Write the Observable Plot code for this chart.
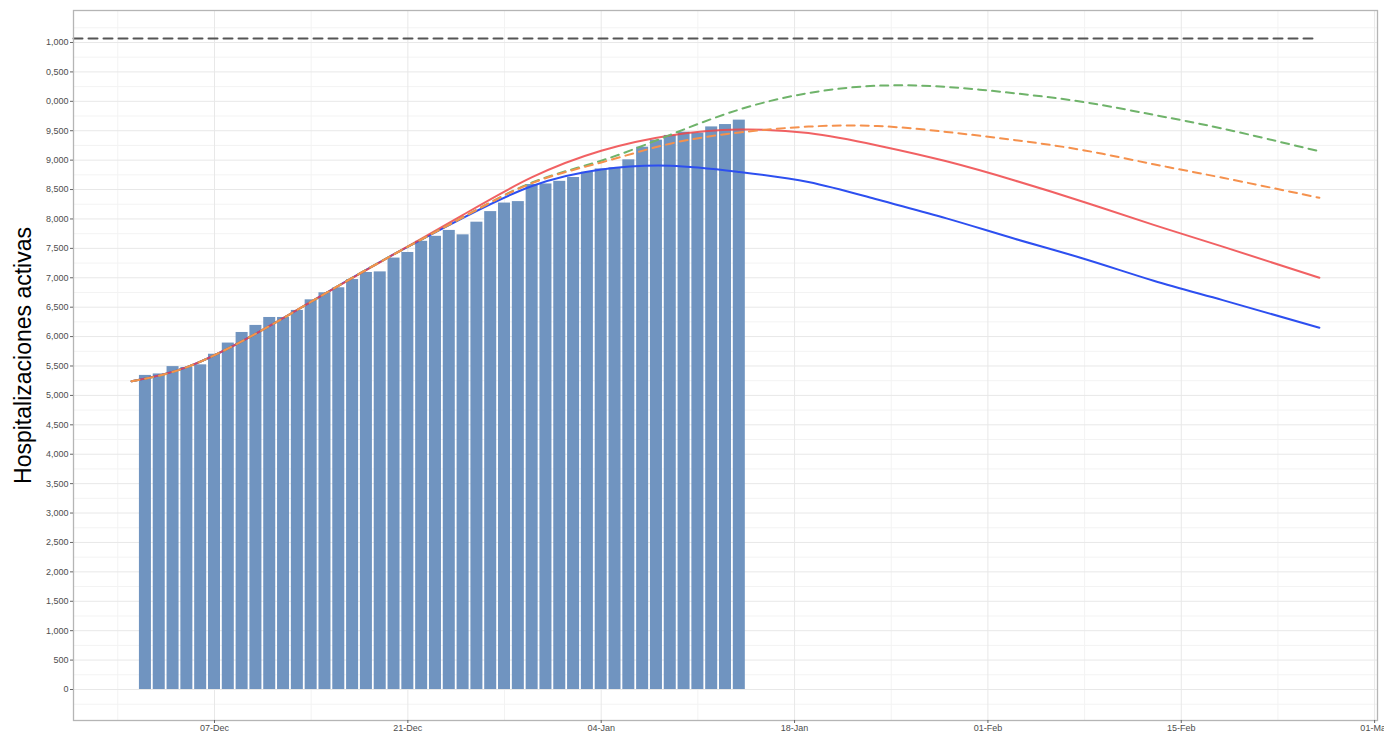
<!DOCTYPE html>
<html><head><meta charset="utf-8">
<script src="https://cdn.jsdelivr.net/npm/d3@7"></script>
<script src="https://cdn.jsdelivr.net/npm/@observablehq/plot@0.6"></script>
<style>body{margin:0;background:#fff;overflow:hidden} svg{display:block}</style>
</head><body><div id="chart"></div>
<script>
// ---- data ----
const barStart = "2020-12-02";
const barValues = [5340,5365,5490,5475,5520,5700,5890,6070,6190,6325,6325,6445,6625,6745,6830,6970,7090,7100,7335,7430,7620,7705,7805,7730,7945,8125,8270,8295,8585,8595,8640,8705,8795,8850,8870,9005,9220,9340,9420,9475,9460,9565,9605,9680];

const curveDates = ["2020-12-01","2020-12-05","2020-12-10","2020-12-15","2020-12-20","2020-12-25","2020-12-30","2021-01-04","2021-01-09","2021-01-14","2021-01-19","2021-01-24","2021-01-29","2021-02-03","2021-02-08","2021-02-13","2021-02-18","2021-02-25"];
const redValues    = [5240,5480,6050,6730,7400,8070,8710,9160,9420,9520,9460,9250,8980,8650,8285,7900,7530,7000];
const blueValues   = [5240,5480,6050,6730,7400,8020,8560,8840,8905,8800,8630,8330,8010,7660,7320,6950,6620,6150];
const orangeValues = [5240,5480,6050,6730,7400,8030,8610,8960,9280,9470,9570,9580,9480,9340,9165,8930,8700,8360];
const greenValues  = [5240,5480,6050,6730,7400,8030,8620,8990,9430,9860,10140,10265,10245,10135,9985,9770,9535,9150];

const capacityDates = ["2020-11-26T19:00Z","2021-02-24T12:00Z"];
const capacityValue = 11070;

const yTicks = [0,500,1000,1500,2000,2500,3000,3500,4000,4500,5000,5500,6000,6500,7000,7500,8000,8500,9000,9500,10000,10500,11000];
const yTickLabels = ["0","500","1,000","1,500","2,000","2,500","3,000","3,500","4,000","4,500","5,000","5,500","6,000","6,500","7,000","7,500","8,000","8,500","9,000","9,500","0,000","0,500","1,000"];
const yMinor = [250,750,1250,1750,2250,2750,3250,3750,4250,4750,5250,5750,6250,6750,7250,7750,8250,8750,9250,9750,10250,10750,11250,-250];
const xTickDates = ["2020-12-07","2020-12-21","2021-01-04","2021-01-18","2021-02-01","2021-02-15","2021-03-01"];
const xTickLabels = ["07-Dec","21-Dec","04-Jan","18-Jan","01-Feb","15-Feb","01-Mar"];
const xMinorDates = ["2020-11-30","2020-12-14","2020-12-28","2021-01-11","2021-01-25","2021-02-08","2021-02-22"];
const yLabel = "Hospitalizaciones activas";

// ---- build tables ----
const parse = s => new Date(s.length === 10 ? s + "T00:00Z" : s);
const barDates = d3.utcDay.range(parse(barStart), d3.utcDay.offset(parse(barStart), barValues.length));
const bars = barValues.map((v, i) => ({date: barDates[i], value: v}));
const mkCurve = vals => vals.map((v, i) => ({date: parse(curveDates[i]), value: v}));
const xTicks = xTickDates.map(parse);
const xMinor = xMinorDates.map(parse);
const capacity = capacityDates.map(s => ({date: parse(s), value: capacityValue}));

const chart = Plot.plot({
  width: 1384, height: 735,
  marginLeft: 73, marginRight: 7, marginTop: 10, marginBottom: 15,
  style: {fontFamily: "'Liberation Sans', Arial, Helvetica, sans-serif", background: "#fff"},
  x: {type: "utc", domain: [parse("2020-11-26T19:00Z"), parse("2021-03-01T05:00Z")]},
  y: {domain: [-527, 11544]},
  marks: [
    Plot.gridY(yMinor, {stroke: "#f3f3f3", strokeOpacity: 1, strokeWidth: 1}),
    Plot.gridX(xMinor, {stroke: "#f3f3f3", strokeOpacity: 1, strokeWidth: 1}),
    Plot.gridY(yTicks, {stroke: "#e8e8e8", strokeOpacity: 1, strokeWidth: 1}),
    Plot.gridX(xTicks, {stroke: "#e8e8e8", strokeOpacity: 1, strokeWidth: 1}),
    Plot.rectY(bars, {
      x1: d => d3.utcHour.offset(d.date, -12),
      x2: d => d3.utcHour.offset(d.date, 12),
      y: "value", fill: "#7094c0", insetLeft: 0.9, insetRight: 0.9
    }),
    Plot.lineY(mkCurve(blueValues), {x: "date", y: "value", stroke: "#2d4ff0", strokeWidth: 2, curve: "natural"}),
    Plot.lineY(mkCurve(redValues), {x: "date", y: "value", stroke: "#ef4548", strokeWidth: 2, strokeOpacity: 0.85, curve: "natural"}),
    Plot.lineY(mkCurve(greenValues), {x: "date", y: "value", stroke: "#6fb36a", strokeWidth: 2, strokeDasharray: "8,6", curve: "natural"}),
    Plot.lineY(mkCurve(orangeValues), {x: "date", y: "value", stroke: "#f5914d", strokeWidth: 2, strokeDasharray: "8,6", curve: "natural"}),
    Plot.lineY(capacity, {x: "date", y: "value", stroke: "#555", strokeWidth: 2, strokeDasharray: "9,6"}),
    Plot.frame({stroke: "#b5b5b5", strokeWidth: 1.3}),
    Plot.axisY({ticks: yTicks, tickFormat: d => yTickLabels[yTicks.indexOf(d)], tickSize: 3, tickPadding: 2, fontSize: 9, fill: "#4d4d4d", stroke: "#666", label: null}),
    Plot.axisX({ticks: xTicks, tickFormat: d => xTickLabels[xTicks.findIndex(t => +t === +d)], tickSize: 3, tickPadding: 1, fontSize: 9, fill: "#4d4d4d", stroke: "#666", label: null}),
    Plot.text([yLabel], {frameAnchor: "left", rotate: -90, textAnchor: "middle", dx: -50, dy: -10, fontSize: 23, fill: "#000"})
  ]
});
document.getElementById("chart").appendChild(chart);
</script></body></html>
